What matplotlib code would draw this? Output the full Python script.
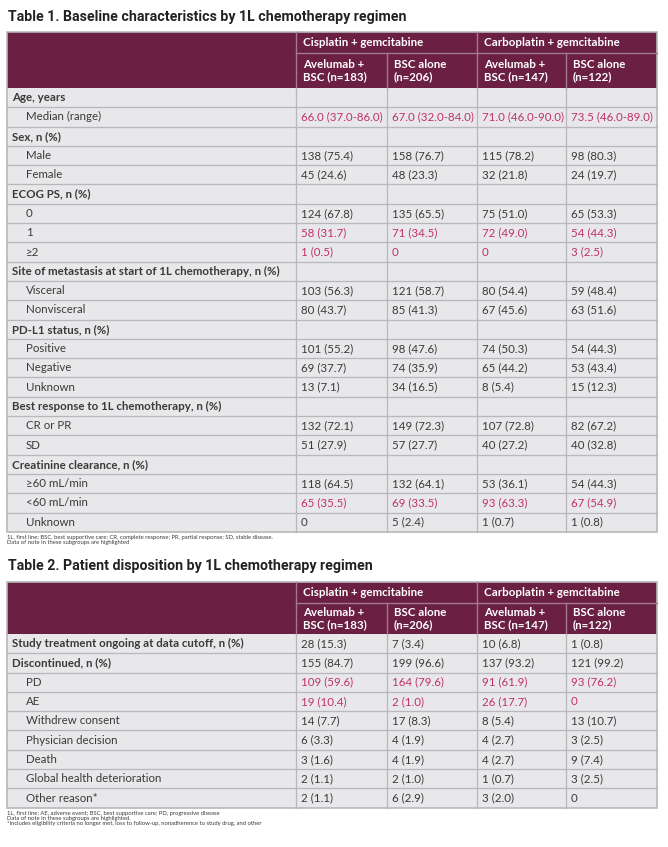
import matplotlib.pyplot as plt
from matplotlib.patches import Rectangle

# ---- data ----
regimens = ["Cisplatin + gemcitabine", "Carboplatin + gemcitabine"]
arms = ["Avelumab +\nBSC (n=183)", "BSC alone\n(n=206)", "Avelumab +\nBSC (n=147)", "BSC alone\n(n=122)"]

t1_title = "Table 1. Baseline characteristics by 1L chemotherapy regimen"
t1_labels = ["Age, years", "Median (range)",
             "Sex, n (%)", "Male", "Female",
             "ECOG PS, n (%)", "0", "1", "≥2",
             "Site of metastasis at start of 1L chemotherapy, n (%)", "Visceral", "Nonvisceral",
             "PD-L1 status, n (%)", "Positive", "Negative", "Unknown",
             "Best response to 1L chemotherapy, n (%)", "CR or PR", "SD",
             "Creatinine clearance, n (%)", "≥60 mL/min", "<60 mL/min", "Unknown"]
t1_values = [None, ["66.0 (37.0-86.0)", "67.0 (32.0-84.0)", "71.0 (46.0-90.0)", "73.5 (46.0-89.0)"],
             None, ["138 (75.4)", "158 (76.7)", "115 (78.2)", "98 (80.3)"],
             ["45 (24.6)", "48 (23.3)", "32 (21.8)", "24 (19.7)"],
             None, ["124 (67.8)", "135 (65.5)", "75 (51.0)", "65 (53.3)"],
             ["58 (31.7)", "71 (34.5)", "72 (49.0)", "54 (44.3)"],
             ["1 (0.5)", "0", "0", "3 (2.5)"],
             None, ["103 (56.3)", "121 (58.7)", "80 (54.4)", "59 (48.4)"],
             ["80 (43.7)", "85 (41.3)", "67 (45.6)", "63 (51.6)"],
             None, ["101 (55.2)", "98 (47.6)", "74 (50.3)", "54 (44.3)"],
             ["69 (37.7)", "74 (35.9)", "65 (44.2)", "53 (43.4)"],
             ["13 (7.1)", "34 (16.5)", "8 (5.4)", "15 (12.3)"],
             None, ["132 (72.1)", "149 (72.3)", "107 (72.8)", "82 (67.2)"],
             ["51 (27.9)", "57 (27.7)", "40 (27.2)", "40 (32.8)"],
             None, ["118 (64.5)", "132 (64.1)", "53 (36.1)", "54 (44.3)"],
             ["65 (35.5)", "69 (33.5)", "93 (63.3)", "67 (54.9)"],
             ["0", "5 (2.4)", "1 (0.7)", "1 (0.8)"]]
t1_highlight = ["Median (range)", "1", "≥2", "<60 mL/min"]
t1_notes = ["1L, first line; BSC, best supportive care; CR, complete response; PR, partial response; SD, stable disease.",
            "Data of note in these subgroups are highlighted"]

t2_title = "Table 2. Patient disposition by 1L chemotherapy regimen"
t2_labels = ["Study treatment ongoing at data cutoff, n (%)", "Discontinued, n (%)", "PD", "AE",
             "Withdrew consent", "Physician decision", "Death", "Global health deterioration", "Other reason*"]
t2_bold = ["Study treatment ongoing at data cutoff, n (%)", "Discontinued, n (%)"]
t2_values = [["28 (15.3)", "7 (3.4)", "10 (6.8)", "1 (0.8)"],
             ["155 (84.7)", "199 (96.6)", "137 (93.2)", "121 (99.2)"],
             ["109 (59.6)", "164 (79.6)", "91 (61.9)", "93 (76.2)"],
             ["19 (10.4)", "2 (1.0)", "26 (17.7)", "0"],
             ["14 (7.7)", "17 (8.3)", "8 (5.4)", "13 (10.7)"],
             ["6 (3.3)", "4 (1.9)", "4 (2.7)", "3 (2.5)"],
             ["3 (1.6)", "4 (1.9)", "4 (2.7)", "9 (7.4)"],
             ["2 (1.1)", "2 (1.0)", "1 (0.7)", "3 (2.5)"],
             ["2 (1.1)", "6 (2.9)", "3 (2.0)", "0"]]
t2_highlight = ["PD", "AE"]
t2_notes = ["1L, first line; AE, adverse event; BSC, best supportive care; PD, progressive disease",
            "Data of note in these subgroups are highlighted.",
            "*Includes eligibility criteria no longer met, loss to follow-up, nonadherence to study drug, and other"]

# ---- style ----
MAROON = "#6a1f43"
HEAD_LINE = "#a3798d"
CELL = "#e8e8ea"
GRID = "#b8b8bb"
TXT = "#3a3a3a"
PINK = "#c0306a"
FONT = "Lato"
FS = 8.3
cols = [7, 296, 387, 477, 566, 657]

fig = plt.figure(figsize=(6.68, 8.47), dpi=100)
ax = fig.add_axes([0, 0, 1, 1])
ax.set_xlim(0, 668)
ax.set_ylim(847, 0)
ax.axis("off")


def draw_table(title, title_y, top, h1, h2, row_h, labels, values, bold, highlight, notes):
    ax.text(8, title_y, title, fontsize=10.2, fontweight="bold", family="Roboto",
            color="#222222", va="center", ha="left")
    # header
    hb = top + h1 + h2
    ax.add_patch(Rectangle((cols[0], top), cols[-1] - cols[0], h1 + h2, fc=MAROON, ec="none"))
    ax.plot([cols[1], cols[-1]], [top + h1, top + h1], color=HEAD_LINE, lw=1)
    for x in cols[1:-1]:
        y0 = top if x in (cols[1], cols[3]) else top + h1
        ax.plot([x, x], [y0, hb], color=HEAD_LINE, lw=1)
    for k, reg in enumerate(regimens):
        ax.text(cols[1 + 2 * k] + 7, top + h1 / 2, reg, fontsize=FS, fontweight="bold",
                family=FONT, color="white", va="center")
    for k, arm in enumerate(arms):
        ax.text(cols[1 + k] + 7, top + h1 + h2 / 2, arm, fontsize=FS, fontweight="bold",
                family=FONT, color="white", va="center", linespacing=1.15)
    # body
    n = len(labels)
    ax.add_patch(Rectangle((cols[0], hb), cols[-1] - cols[0], n * row_h, fc=CELL, ec="none"))
    for i in range(1, n):
        ax.plot([cols[0], cols[-1]], [hb + i * row_h] * 2, color=GRID, lw=0.9)
    for x in cols[1:-1]:
        ax.plot([x, x], [hb, hb + n * row_h], color=GRID, lw=0.9)
    ax.add_patch(Rectangle((cols[0], top), cols[-1] - cols[0], hb - top + n * row_h,
                           fc="none", ec=GRID, lw=1.2))
    for i, (lab, vals) in enumerate(zip(labels, values)):
        yc = hb + (i + 0.5) * row_h
        is_head = vals is None or lab in bold
        ax.text(cols[0] + 5 if is_head else cols[0] + 19, yc, lab, fontsize=FS,
                fontweight="bold" if is_head else "normal", family=FONT, color=TXT, va="center")
        if vals is None:
            continue
        c = PINK if lab in highlight else TXT
        for k, v in enumerate(vals):
            ax.text(cols[1 + k] + 5, yc, v, fontsize=FS, family=FONT, color=c, va="center")
    yb = hb + n * row_h
    for j, note in enumerate(notes):
        ax.text(cols[0], yb + 6 + j * 5, note, fontsize=4.2, family=FONT, color=TXT, va="center")


draw_table(t1_title, 17, 32, 21, 35, 19.3, t1_labels, t1_values, [], t1_highlight, t1_notes)
draw_table(t2_title, 566, 582, 21, 31, 19.3, t2_labels, t2_values, t2_bold, t2_highlight, t2_notes)

fig.savefig("out.png", dpi=100)
